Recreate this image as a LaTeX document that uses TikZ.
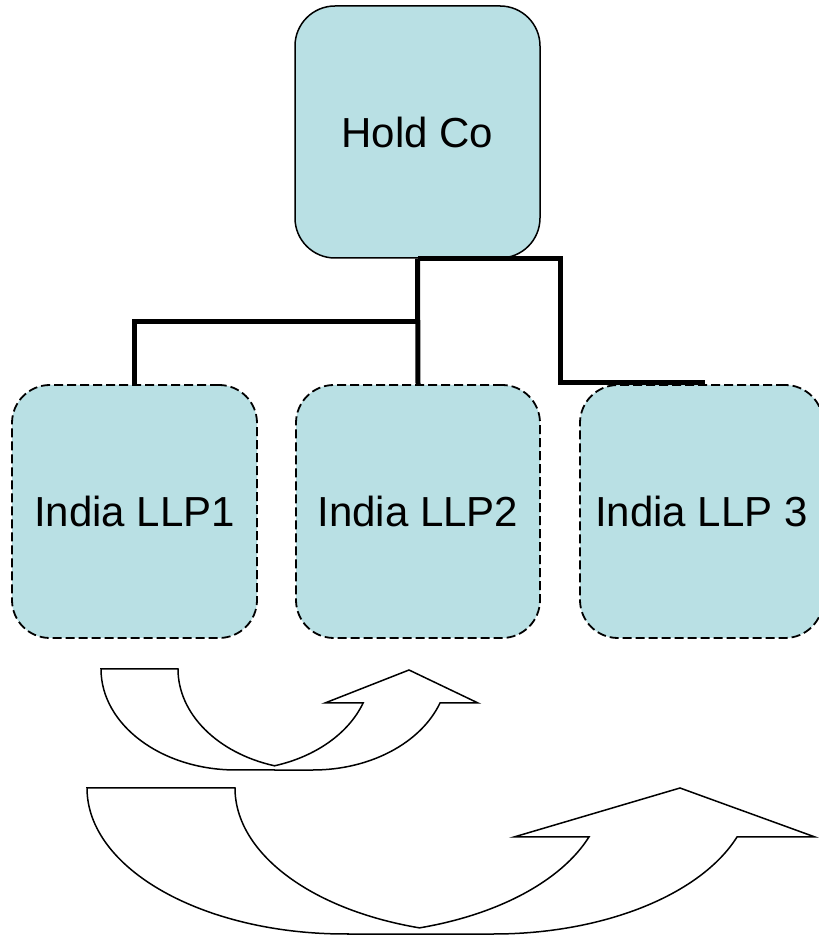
\documentclass[tikz,border=0pt]{standalone}
\usepackage{fontspec}
\setmainfont{Liberation Sans}
\definecolor{boxfill}{RGB}{185,224,228}
\tikzset{
  holdbox/.style={draw=black, line width=1.5pt, fill=boxfill, rounded corners=40pt,
    minimum width=245pt, minimum height=252pt, inner sep=0pt,
    font=\fontsize{42}{50}\selectfont},
  llpbox/.style={draw=black, line width=1.8pt, fill=boxfill, rounded corners=38pt,
    dash pattern=on 9pt off 4pt,
    minimum width=244pt, minimum height=253pt, inner sep=0pt,
    font=\fontsize{42}{50}\selectfont},
  conn/.style={draw=black, line width=5pt, line join=miter},
  bentarrow/.style={draw=black, line width=1.5pt, line join=miter, fill=none}
}
\begin{document}
\begin{tikzpicture}[x=1pt,y=1pt]
\useasboundingbox (0,0) rectangle (819,937);
\fill[white] (0,0) rectangle (819,937);

% boxes
\node[holdbox] (hc) at (417.5,805) {Hold Co};
\node[llpbox, minimum width=245pt] (llp1) at (134.5,425.5) {India LLP1};
\node[llpbox] (llp2) at (418,425.5) {India LLP2};
\node[llpbox, minimum width=243pt] (llp3) at (701.5,425.5) {India LLP 3};

% connectors
\coordinate (j1) at (418,615);
\coordinate (r0) at (418,678);
\coordinate (r1) at (560,554);
\coordinate (r2) at (705,554);
\draw[conn] (hc.south) -- (llp2.north);
\draw[conn] (llp1.north) |- (j1);
\draw[conn] (r0) -| (r1) -- (r2);

% small curved up arrow
\draw[bentarrow] (101,268) -- (178,268)
  arc[start angle=180, end angle=253.43, x radius=135pt, y radius=101pt]
  arc[start angle=286.57, end angle=340.33, x radius=135pt, y radius=101pt]
  -- (325,234) -- (409,267) -- (478,234) -- (440,234)
  arc[start angle=340.33, end angle=270, x radius=135pt, y radius=101pt]
  -- (236,167)
  arc[start angle=270, end angle=180, x radius=135pt, y radius=101pt]
  -- cycle;

% large curved up arrow
\draw[bentarrow] (87,149) -- (235,149)
  arc[start angle=180, end angle=253.36, x radius=258.5pt, y radius=146pt]
  arc[start angle=286.64, end angle=340.39, x radius=258.5pt, y radius=146pt]
  -- (514,100) -- (680,149) -- (815,100) -- (737,100)
  arc[start angle=340.39, end angle=270, x radius=258.5pt, y radius=146pt]
  -- (345.5,3)
  arc[start angle=270, end angle=180, x radius=258.5pt, y radius=146pt]
  -- cycle;
\end{tikzpicture}
\end{document}
